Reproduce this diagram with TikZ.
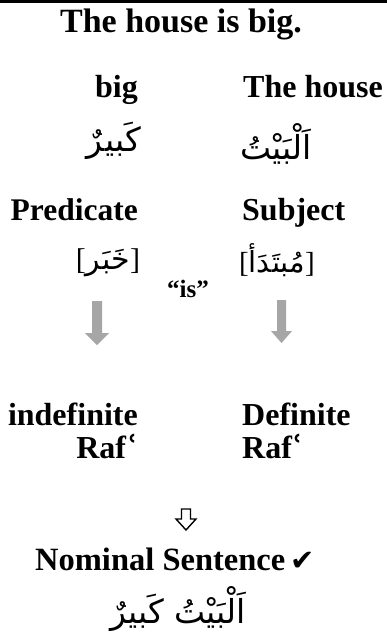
\documentclass[tikz,border=0pt]{standalone}
\usepackage{fontspec}
\setmainfont{Liberation Serif}
\newfontfamily\arabicfont[Script=Arabic]{DejaVu Sans}
\newfontfamily\symfont{DejaVu Sans}
\newfontfamily\brkfont{Liberation Serif}
\TeXXeTstate=1
\newcommand{\lbr}{{\brkfont[}}
\newcommand{\rbr}{{\brkfont]}}
\begin{document}
\begin{tikzpicture}[x=1pt,y=-1pt,
  lbl/.style={inner sep=0pt,font=\fontsize{32}{32}\selectfont\bfseries},
  ar/.style={inner sep=0pt,font=\fontsize{33}{33}\selectfont\arabicfont},
  grayarrow/.style={fill=black!35,draw=none}]
\useasboundingbox (0,0) rectangle (387,635);
\fill[white] (0,0) rectangle (387,635);
\coordinate (tl) at (0,1.5);
\coordinate (tr) at (387,1.5);
\draw[line width=3pt] (tl) -- (tr);
% title
\node[lbl,font=\fontsize{34}{34}\selectfont\bfseries,anchor=base] (title) at (181,32) {The house is big.};
% row 1
\node[lbl,anchor=base east] (big) at (138,97) {big};
\node[lbl,anchor=base west] (house) at (243,97) {The house};
\node[ar,anchor=east] (kabir) at (141,141) {\beginR كَبيرٌ\endR};
\node[ar,anchor=west] (bayt) at (240,144) {\beginR اَلْبَيْتُ\endR};
% row 2
\node[lbl,font=\fontsize{31.5}{31.5}\selectfont\bfseries,anchor=base east] (pred) at (138,220) {Predicate};
\node[lbl,anchor=base west] (subj) at (242,220) {Subject};
\node[ar,font=\fontsize{30}{30}\selectfont\arabicfont,anchor=center] (khabar) at (108,263) {\lbr\beginR خَبَر\endR\rbr};
\node[ar,font=\fontsize{29}{29}\selectfont\arabicfont,anchor=center] (mubt) at (277,260) {\lbr\beginR مُبتَدَأ\endR\rbr};
\node[lbl,font=\fontsize{25}{25}\selectfont\bfseries,anchor=base] (is) at (188,297) {“is”};
% gray arrows
\fill[grayarrow] (92,301) -- (102,301) -- (102,333) -- (109,333) -- (97,345) -- (85,333) -- (92,333) -- cycle;
\fill[grayarrow] (277,300) -- (286,300) -- (286,331) -- (292,331) -- (281.5,343) -- (271,331) -- (277,331) -- cycle;
% row 3
\node[lbl,anchor=base east] (indef) at (138,425) {indefinite};
\node[lbl,anchor=base east] (raf1) at (138,458) {Raf{\fontspec{DejaVu Serif}\bfseries ʿ}};
\node[lbl,anchor=base west] (def) at (242,425) {Definite};
\node[lbl,anchor=base west] (raf2) at (242,458) {Raf{\fontspec{DejaVu Serif}\bfseries ʿ}};
% hollow arrow
\draw[line width=1.4pt,line join=miter] (181.5,509) -- (190.5,509) -- (190.5,519) -- (196,519) -- (186,530) -- (176,519) -- (181.5,519) -- cycle;
% result
\node[lbl,font=\fontsize{32.5}{32.5}\selectfont\bfseries,anchor=base west] (nominal) at (35,570) {Nominal Sentence\hspace{5pt}{\symfont\fontsize{29}{29}\selectfont ✔}};
\node[ar,anchor=center] (full) at (178,609) {\beginR اَلْبَيْتُ كَبيرٌ\endR};
\end{tikzpicture}
\end{document}
